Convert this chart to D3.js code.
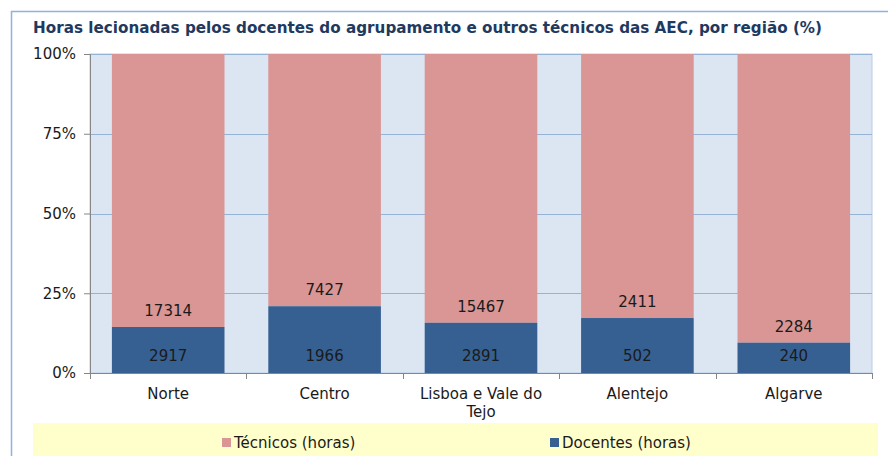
<!DOCTYPE html>
<html>
<head>
<meta charset="utf-8">
<script src="https://cdn.jsdelivr.net/npm/d3@7"></script>
<style>
  body { margin: 0; background: #fff; }
  svg { display: block; font-family: "DejaVu Sans", Verdana, sans-serif; }
</style>
</head>
<body>
<svg width="888" height="456"></svg>
<script>
const regions = [["Norte"], ["Centro"], ["Lisboa e Vale do", "Tejo"], ["Alentejo"], ["Algarve"]];
const docentes = [2917, 1966, 2891, 502, 240];
const tecnicos = [17314, 7427, 15467, 2411, 2284];
const yTicks = [0, 0.25, 0.5, 0.75, 1];
const seriesNames = ["Técnicos (horas)", "Docentes (horas)"];

const svg = d3.select("svg");
const W = 888, H = 456;
const plot = {left: 90, right: 872, top: 54, bottom: 373};
const fs = 15;

const colors = {doc: "#366092", tec: "#D99694"};

// outer chart frame (only left and top visible)
svg.append("line").attr("x1", 11.5).attr("x2", 11.5).attr("y1", 11).attr("y2", H)
  .attr("stroke", "#8DB3E2").attr("stroke-width", 1.5);
svg.append("line").attr("x1", 11).attr("x2", W).attr("y1", 11.5).attr("y2", 11.5)
  .attr("stroke", "#8DB3E2").attr("stroke-width", 1.5);

svg.append("text")
  .attr("x", 33).attr("y", 33)
  .attr("font-size", 15).attr("font-weight", "bold")
  .attr("fill", "#1F3A5F")
  .attr("textLength", 789).attr("lengthAdjust", "spacingAndGlyphs")
  .text("Horas lecionadas pelos docentes do agrupamento e outros técnicos das AEC, por região (%)");

const x = d3.scaleBand()
  .domain(regions.map((d, i) => i))
  .range([plot.left, plot.right])
  .paddingInner(0.28).paddingOuter(0.14);

const y = d3.scaleLinear().domain([0, 1]).range([plot.bottom, plot.top]);

// plot background
svg.append("rect")
  .attr("x", plot.left).attr("y", plot.top)
  .attr("width", plot.right - plot.left).attr("height", plot.bottom - plot.top)
  .attr("fill", "#DCE6F2").attr("stroke", "#B9CDE5");

// gridlines
svg.append("g").selectAll("line").data(yTicks.filter(t => t > 0)).join("line")
  .attr("x1", plot.left).attr("x2", plot.right)
  .attr("y1", d => Math.round(y(d)) + 0.5).attr("y2", d => Math.round(y(d)) + 0.5)
  .attr("stroke", "#95B3D7").attr("stroke-width", 1);

// bars
const data = regions.map((r, i) => {
  const total = docentes[i] + tecnicos[i];
  return {i, doc: docentes[i], tec: tecnicos[i], docShare: docentes[i] / total};
});

const g = svg.append("g");
g.selectAll(".tec").data(data).join("rect")
  .attr("x", d => x(d.i)).attr("width", x.bandwidth())
  .attr("y", y(1)).attr("height", d => y(d.docShare) - y(1))
  .attr("fill", colors.tec);
g.selectAll(".doc").data(data).join("rect")
  .attr("x", d => x(d.i)).attr("width", x.bandwidth())
  .attr("y", d => y(d.docShare)).attr("height", d => y(0) - y(d.docShare))
  .attr("fill", colors.doc);

// labels (inside base)
g.selectAll(".ltec").data(data).join("text")
  .attr("x", d => x(d.i) + x.bandwidth() / 2)
  .attr("y", d => y(d.docShare) - 11)
  .attr("text-anchor", "middle").attr("font-size", fs).attr("fill", "#1a1a1a")
  .text(d => d.tec);
g.selectAll(".ldoc").data(data).join("text")
  .attr("x", d => x(d.i) + x.bandwidth() / 2)
  .attr("y", y(0) - 12)
  .attr("text-anchor", "middle").attr("font-size", fs).attr("fill", "#1a1a1a")
  .text(d => d.doc);

// y axis
const yAxis = svg.append("g").attr("transform", `translate(${plot.left},0)`)
  .call(d3.axisLeft(y).tickValues(yTicks).tickFormat(d3.format(".0%")).tickSize(6).tickPadding(8));
yAxis.select(".domain").attr("stroke", "#868686");
yAxis.selectAll(".tick line").attr("stroke", "#868686");
yAxis.selectAll("text").attr("font-size", fs).attr("fill", "#1a1a1a").attr("font-family", "DejaVu Sans");

// x axis line and ticks between categories
svg.append("line").attr("x1", plot.left - 6).attr("x2", plot.right)
  .attr("y1", plot.bottom + 0.5).attr("y2", plot.bottom + 0.5).attr("stroke", "#868686");
const bounds = d3.range(regions.length + 1).map(k => plot.left + k * (plot.right - plot.left) / regions.length);
svg.append("g").selectAll("line").data(bounds).join("line")
  .attr("x1", d => Math.round(d) + 0.5).attr("x2", d => Math.round(d) + 0.5)
  .attr("y1", plot.bottom).attr("y2", plot.bottom + 6).attr("stroke", "#868686");

const xl = svg.append("g").selectAll("text").data(regions).join("text")
  .attr("x", (d, i) => x(i) + x.bandwidth() / 2)
  .attr("y", 399)
  .attr("text-anchor", "middle").attr("font-size", fs).attr("fill", "#1a1a1a");
xl.selectAll("tspan").data(d => d).join("tspan")
  .attr("x", function() { return this.parentNode.getAttribute("x"); })
  .attr("dy", (d, k) => k === 0 ? 0 : 18)
  .text(d => d);

// legend
svg.append("rect").attr("x", 33).attr("y", 423).attr("width", 845).attr("height", 40)
  .attr("fill", "#FFFFCC");
const legendX = [222, 550];
const legendColors = [colors.tec, colors.doc];
const lg = svg.append("g").selectAll("g").data(seriesNames).join("g")
  .attr("transform", (d, i) => `translate(${legendX[i]},443)`);
lg.append("rect").attr("x", 0).attr("y", -5).attr("width", 9).attr("height", 9)
  .attr("fill", (d, i) => legendColors[i]);
lg.append("text").attr("x", 12).attr("y", 5).attr("font-size", fs).attr("fill", "#1a1a1a")
  .text(d => d);
</script>
</body>
</html>
